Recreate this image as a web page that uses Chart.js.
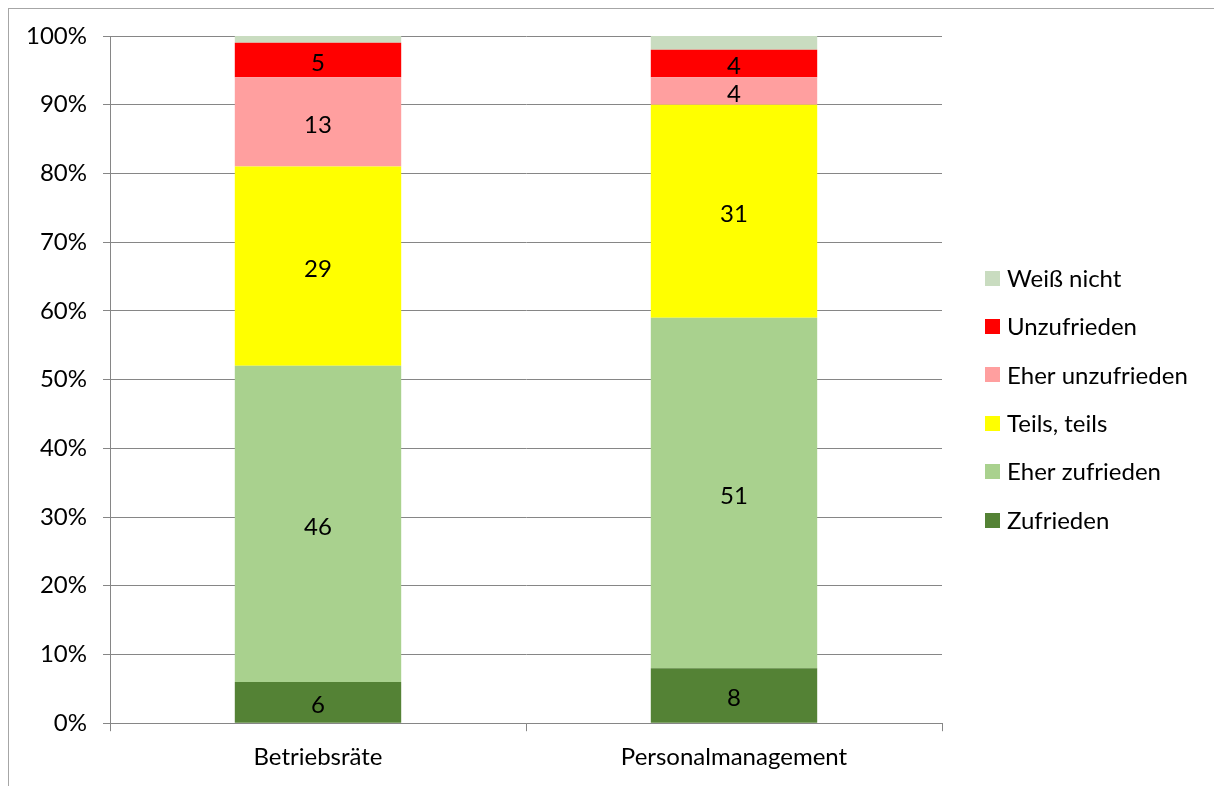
<!DOCTYPE html>
<html>
<head>
<meta charset="utf-8">
<script src="https://cdn.jsdelivr.net/npm/chart.js@4"></script>
<style>
  html, body { margin: 0; padding: 0; background: #fff; }
  #wrap { position: relative; width: 1214px; height: 786px; overflow: hidden; }
  #frame { position: absolute; left: 8px; top: 8px; width: 1400px; height: 1000px; border: 1px solid #a6a6a6; box-sizing: border-box; }
  canvas { position: absolute; left: 0; top: 0; }
</style>
</head>
<body>
<div id="wrap">
  <div id="frame"></div>
  <canvas id="c" width="1214" height="786"></canvas>
</div>
<script>
// Survey answers per group, in percent
const categories = ['Betriebsräte', 'Personalmanagement'];
const zufrieden       = [6, 8];
const eherZufrieden   = [46, 51];
const teilsTeils      = [29, 31];
const eherUnzufrieden = [13, 4];
const unzufrieden     = [5, 4];
const weissNicht      = [1, 2];
const yTicks = [0, 10, 20, 30, 40, 50, 60, 70, 80, 90, 100];

const FONT = 'Lato, "Open Sans", sans-serif';
const FONT_SIZE = 24;

const datasets = [
  { label: 'Zufrieden',        data: zufrieden,       backgroundColor: '#548235', showValue: true },
  { label: 'Eher zufrieden',   data: eherZufrieden,   backgroundColor: '#a9d18e', showValue: true },
  { label: 'Teils, teils',     data: teilsTeils,      backgroundColor: '#ffff00', showValue: true },
  { label: 'Eher unzufrieden', data: eherUnzufrieden, backgroundColor: '#ff9f9f', showValue: true },
  { label: 'Unzufrieden',      data: unzufrieden,     backgroundColor: '#ff0000', showValue: true },
  { label: 'Weiß nicht',       data: weissNicht,      backgroundColor: '#c9dcc0', showValue: false }
].map(d => Object.assign(d, { categoryPercentage: 0.4, barPercentage: 1.0, borderWidth: 0 }));

// Writes each segment's value in the middle of its bar piece
const valueLabels = {
  id: 'valueLabels',
  afterDatasetsDraw(chart) {
    const ctx = chart.ctx;
    ctx.save();
    ctx.font = FONT_SIZE + 'px ' + FONT;
    ctx.fillStyle = '#000';
    ctx.textAlign = 'center';
    ctx.textBaseline = 'middle';
    chart.data.datasets.forEach((ds, i) => {
      if (!ds.showValue) return;
      chart.getDatasetMeta(i).data.forEach((bar, j) => {
        const p = bar.getCenterPoint();
        ctx.fillText(String(ds.data[j]), p.x, p.y + 3);
      });
    });
    ctx.restore();
  }
};

// Legend on the right, listed from the top segment down
const sideLegend = {
  id: 'sideLegend',
  afterDraw(chart) {
    const ctx = chart.ctx;
    const area = chart.chartArea;
    const boxX = area.right + 43;
    const firstY = 278;
    const step = 48.4;
    const box = 15;
    ctx.save();
    ctx.font = FONT_SIZE + 'px ' + FONT;
    ctx.textAlign = 'left';
    ctx.textBaseline = 'middle';
    const items = chart.data.datasets.slice().reverse();
    items.forEach((ds, k) => {
      const cy = firstY + k * step;
      ctx.fillStyle = ds.backgroundColor;
      ctx.fillRect(boxX, Math.round(cy - box / 2), box, box);
      ctx.fillStyle = '#000';
      ctx.fillText(ds.label, boxX + box + 7, cy + 1);
    });
    ctx.restore();
  }
};

new Chart(document.getElementById('c'), {
  type: 'bar',
  data: { labels: categories, datasets },
  options: {
    responsive: false,
    animation: false,
    devicePixelRatio: 1,
    layout: { padding: { left: 8, top: 36, right: 272, bottom: 2 } },
    plugins: {
      tooltip: { enabled: false },
      legend: { display: false }
    },
    scales: {
      x: {
        stacked: true,
        offset: true,
        grid: { offset: true, drawOnChartArea: false, drawTicks: true, tickLength: 8, color: '#868686' },
        border: { color: '#868686' },
        ticks: { color: '#000', font: { family: FONT, size: FONT_SIZE }, padding: 12 }
      },
      y: {
        stacked: true,
        min: 0,
        max: 100,
        afterBuildTicks: s => { s.ticks = yTicks.map(v => ({ value: v })); },
        afterFit: s => { s.width = 102; },
        grid: { color: '#868686', tickLength: 7 },
        border: { color: '#868686' },
        ticks: { color: '#000', font: { family: FONT, size: FONT_SIZE }, padding: 16, callback: v => v + '%' }
      }
    }
  },
  plugins: [valueLabels, sideLegend]
});
</script>
</body>
</html>
